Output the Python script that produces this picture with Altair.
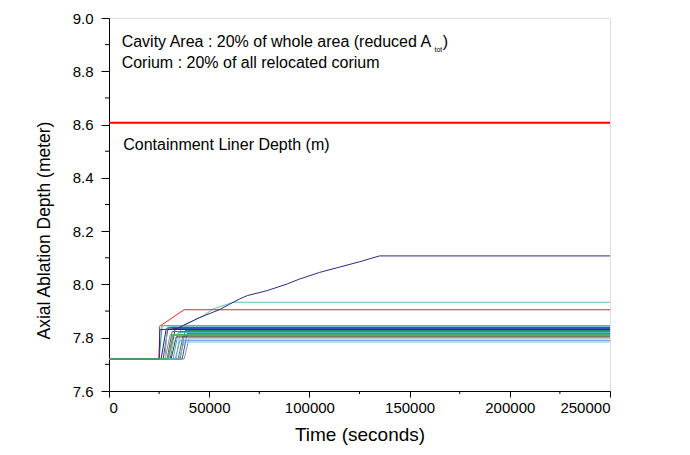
import altair as alt
import pandas as pd

# ---------------- data ----------------
BASE = 7.72          # initial depth (m)
T_END = 250000       # end of simulation (s)
LINER_DEPTH = 8.607  # containment liner depth (m)

# special (growing) series
navy_t = [0, 25000, 25400, 34000, 45000, 55000, 60000, 65000, 69000, 79000,
          89000, 95000, 105000, 115000, 125000, 135000, 250000]
navy_y = [7.72, 7.72, 7.83, 7.835, 7.875, 7.905, 7.925, 7.945, 7.958, 7.977,
          8.002, 8.02, 8.045, 8.065, 8.085, 8.107, 8.107]
red_t = [0, 25000, 25300, 37500, 250000]
red_y = [7.72, 7.72, 7.843, 7.905, 7.905]
teal_t = [0, 28000, 29000, 37000, 47000, 52000, 62000, 250000]
teal_y = [7.72, 7.72, 7.84, 7.845, 7.882, 7.908, 7.933, 7.933]

# bundle of series that jump once then stay flat
bundle_start = [25000, 33500, 27000, 30500, 26000, 35500, 29000, 32000,
                36500, 28000, 34500, 31000, 37500, 30000, 33000, 35000]
bundle_end = [26500, 36000, 29500, 33000, 28500, 38000, 31500, 34500,
              39000, 30500, 37000, 33500, 40000, 32500, 35500, 37500]
bundle_level = [7.845, 7.842, 7.838, 7.835, 7.831, 7.827, 7.823, 7.819,
                7.815, 7.811, 7.807, 7.803, 7.799, 7.795, 7.790, 7.784]
bundle_color = ["#3a9a9a", "#80c0c0", "#6a2a9a", "#2040c0", "#202070",
                "#2a8a70", "#a03aa8", "#30b0d0", "#3050b0", "#7a9a8a",
                "#6a6a30", "#4a3a20", "#909090", "#c8c8c8", "#60a0e0",
                "#8ab0e8"]

green_t = [0, 29500, 32000, 250000]
green_y = [7.72, 7.72, 7.81, 7.81]

# axis ticks
y_major = [7.6, 7.8, 8.0, 8.2, 8.4, 8.6, 8.8, 9.0]
y_minor = [7.7, 7.9, 8.1, 8.3, 8.5, 8.7, 8.9]
x_major = [0, 50000, 100000, 150000, 200000, 250000]
x_minor = [25000, 75000, 125000, 175000, 225000]

# ---------------- build tables ----------------
rows = []
names, colors = [], []
order = 0
for i, (t0, t1, lv, c) in enumerate(zip(bundle_start, bundle_end, bundle_level, bundle_color)):
    nm = f"b{i}"
    names.append(nm); colors.append(c)
    for t, y in [(0, BASE), (t0, BASE), (t1, lv), (T_END, lv)]:
        rows.append({"s": nm, "t": t, "y": y, "o": order}); order += 1
for nm, c, ts, ys in [("teal", "#6fb8b0", teal_t, teal_y),
                      ("red", "#ff2020", red_t, red_y),
                      ("navy", "#2a2a80", navy_t, navy_y)]:
    names.append(nm); colors.append(c)
    for t, y in zip(ts, ys):
        rows.append({"s": nm, "t": t, "y": y, "o": order}); order += 1
df = pd.DataFrame(rows)
df_green = pd.DataFrame({"t": green_t, "y": green_y})

W, H = 501, 373
FONT = "Liberation Sans"

xscale = alt.Scale(domain=[0, 250000], nice=False, zero=False)
yscale = alt.Scale(domain=[7.6, 9.0], nice=False, zero=False)

lines = alt.Chart(df).mark_line(strokeWidth=1, clip=True).encode(
    x=alt.X("t:Q", scale=xscale,
            axis=alt.Axis(title="Time (seconds)", values=x_major, format="d",
                          grid=False, tickSize=6, labelPadding=3,
                          titlePadding=10, titleFontSize=19, labelFontSize=15,
                          titleFontWeight="normal", labelColor="black",
                          titleColor="black", domainColor="black",
                          tickColor="black", labelFont=FONT, titleFont=FONT)),
    y=alt.Y("y:Q", scale=yscale,
            axis=alt.Axis(title="Axial Ablation Depth (meter)", values=y_major,
                          format=".1f", grid=False, tickSize=8, labelPadding=8,
                          titlePadding=19, titleFontSize=17.5, labelFontSize=15,
                          titleFontWeight="normal", labelColor="black",
                          titleColor="black", domainColor="black",
                          tickColor="black", labelFont=FONT, titleFont=FONT,
                          titleY=212)),
    color=alt.Color("s:N", scale=alt.Scale(domain=names, range=colors), legend=None),
    detail="s:N",
    order="o:Q",
)

green = alt.Chart(df_green).mark_line(strokeWidth=1.6, color="#3cb44b", clip=True).encode(
    x=alt.X("t:Q", scale=xscale), y=alt.Y("y:Q", scale=yscale))

liner = alt.Chart(pd.DataFrame({"y": [LINER_DEPTH]})).mark_rule(
    color="#ff0000", strokeWidth=2).encode(y=alt.Y("y:Q", scale=yscale))

ann = pd.DataFrame({
    "x": [6300, 162400, 166600, 6300, 7100],
    "y": [8.893, 8.871, 8.893, 8.813, 8.504],
    "text": ["Cavity Area : 20% of whole area (reduced A", "tot", ")",
             "Corium : 20% of all relocated corium", "Containment Liner Depth (m)"],
    "fs": [16, 7, 16, 16, 16],
})
texts = alt.Chart(ann).mark_text(align="left", baseline="alphabetic", font=FONT,
                                 color="black").encode(
    x=alt.X("x:Q", scale=xscale), y=alt.Y("y:Q", scale=yscale),
    text="text:N", size=alt.Size("fs:Q", scale=None, legend=None))

yminor = alt.Chart(pd.DataFrame({"y": y_minor})).mark_rule(
    color="black", strokeWidth=1).encode(
    y=alt.Y("y:Q", scale=yscale), x=alt.value(0), x2=alt.value(-4))
xminor = alt.Chart(pd.DataFrame({"x": x_minor})).mark_rule(
    color="black", strokeWidth=1).encode(
    x=alt.X("x:Q", scale=xscale), y=alt.value(H), y2=alt.value(H + 3))

chart = alt.layer(lines, green, liner, texts, yminor, xminor).properties(
    width=W, height=H,
    autosize=alt.AutoSizeParams(type="none"),
    padding={"left": 101, "top": 10, "right": 60, "bottom": 55},
).configure_view(stroke="#808080", strokeWidth=1).configure(background="white")

chart.save("out.html", embed_options={"renderer": "svg", "actions": False})
